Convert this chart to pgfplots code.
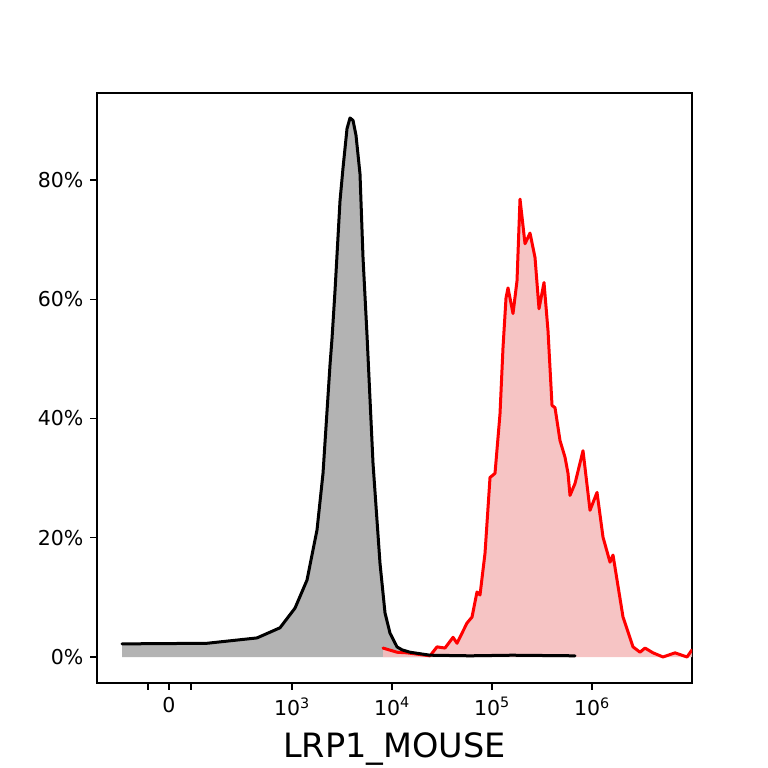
\documentclass[border=0pt]{standalone}
\usepackage{fontspec}
\setmainfont{DejaVu Sans}
\usepackage{pgfplots}
\pgfplotsset{compat=1.18}
\definecolor{redfill}{RGB}{245,190,190}
\definecolor{grayfill}{RGB}{179,179,179}
\begin{document}
\begin{tikzpicture}[x=1bp,y=1bp]
\useasboundingbox (0,0) rectangle (768,768);
\begin{axis}[
  at={(97bp,85bp)}, anchor=south west,
  scale only axis, width=595bp, height=590bp,
  xmin=1.05, xmax=7.00, ymin=-4.36, ymax=94.59,
  xtick={1.77,3,4,5,6},
  xticklabels={0,10\textsuperscript{3},10\textsuperscript{4},10\textsuperscript{5},10\textsuperscript{6}},
  minor xtick={1.56,1.99},
  ytick={0,20,40,60,80},
  yticklabels={0\%,20\%,40\%,60\%,80\%},
  xtick pos=left, ytick pos=left,
  tick align=outside,
  major tick length=7bp, minor tick length=7bp,
  tick style={black, line width=1.3bp},
  every minor tick/.style={black, line width=1.3bp},
  axis line style={black, line width=1.5bp},
  ticklabel style={font=\fontsize{20.5bp}{23bp}\selectfont},
  xticklabel style={yshift=-4bp},
  yticklabel style={xshift=-3bp},
  xlabel={LRP1\_MOUSE},
  xlabel style={font=\fontsize{33.5bp}{38bp}\selectfont, yshift=-10bp},
  clip=true,
]
% gray fill
\addplot[draw=none, fill=grayfill] coordinates {
(1.30,2.2)(2.15,2.3)(2.65,3.2)(2.88,4.9)(3.03,8.2)(3.15,12.9)(3.25,21.3)(3.31,30.8)(3.38,49.0)(3.40,53.4)(3.43,61.4)(3.48,76.5)(3.51,82.0)(3.55,88.6)(3.58,90.4)(3.61,90.0)(3.64,87.5)(3.68,81.0)(3.71,67.0)(3.75,54.0)(3.81,32.5)(3.88,15.7)(3.93,7.4)(3.98,4.0)(4.05,1.7)(4.10,1.2)(4.18,0.8)(4.38,0.3)(4.78,0.2)(5.20,0.3)(5.83,0.2)
} \closedcycle;
% red fill
\addplot[draw=none, fill=redfill, fill opacity=0.9] coordinates {
(3.91,1.5)(4.05,0.8)(4.15,0.7)(4.38,0.2)(4.45,1.7)(4.53,1.5)(4.61,3.3)(4.65,2.3)(4.75,5.7)(4.80,6.7)(4.85,10.9)(4.88,10.4)(4.93,17.4)(4.98,30.1)(5.03,30.8)(5.08,40.8)(5.11,51.9)(5.14,60.2)(5.16,61.9)(5.21,57.6)(5.25,63.1)(5.28,76.8)(5.33,69.3)(5.38,71.1)(5.43,67.0)(5.47,58.4)(5.52,62.8)(5.56,54.7)(5.60,42.2)(5.63,41.8)(5.68,36.3)(5.73,33.5)(5.76,30.8)(5.78,27.1)(5.83,29.1)(5.91,34.6)(5.98,24.6)(6.05,27.6)(6.11,20.1)(6.18,15.9)(6.21,17.1)(6.31,6.7)(6.41,1.7)(6.48,0.8)(6.53,1.5)(6.61,0.7)(6.71,0.0)(6.83,0.7)(6.95,0.0)(7.00,1.2)
} \closedcycle;
% red line
\addplot[red, line width=3bp, line join=round, line cap=round] coordinates {
(3.91,1.5)(4.05,0.8)(4.15,0.7)(4.38,0.2)(4.45,1.7)(4.53,1.5)(4.61,3.3)(4.65,2.3)(4.75,5.7)(4.80,6.7)(4.85,10.9)(4.88,10.4)(4.93,17.4)(4.98,30.1)(5.03,30.8)(5.08,40.8)(5.11,51.9)(5.14,60.2)(5.16,61.9)(5.21,57.6)(5.25,63.1)(5.28,76.8)(5.33,69.3)(5.38,71.1)(5.43,67.0)(5.47,58.4)(5.52,62.8)(5.56,54.7)(5.60,42.2)(5.63,41.8)(5.68,36.3)(5.73,33.5)(5.76,30.8)(5.78,27.1)(5.83,29.1)(5.91,34.6)(5.98,24.6)(6.05,27.6)(6.11,20.1)(6.18,15.9)(6.21,17.1)(6.31,6.7)(6.41,1.7)(6.48,0.8)(6.53,1.5)(6.61,0.7)(6.71,0.0)(6.83,0.7)(6.95,0.0)(7.00,1.2)
};
% black line
\addplot[black, line width=3bp, line join=round, line cap=round] coordinates {
(1.30,2.2)(2.15,2.3)(2.65,3.2)(2.88,4.9)(3.03,8.2)(3.15,12.9)(3.25,21.3)(3.31,30.8)(3.38,49.0)(3.40,53.4)(3.43,61.4)(3.48,76.5)(3.51,82.0)(3.55,88.6)(3.58,90.4)(3.61,90.0)(3.64,87.5)(3.68,81.0)(3.71,67.0)(3.75,54.0)(3.81,32.5)(3.88,15.7)(3.93,7.4)(3.98,4.0)(4.05,1.7)(4.10,1.2)(4.18,0.8)(4.38,0.3)(4.78,0.2)(5.20,0.3)(5.83,0.2)
};
\end{axis}
\end{tikzpicture}
\end{document}
